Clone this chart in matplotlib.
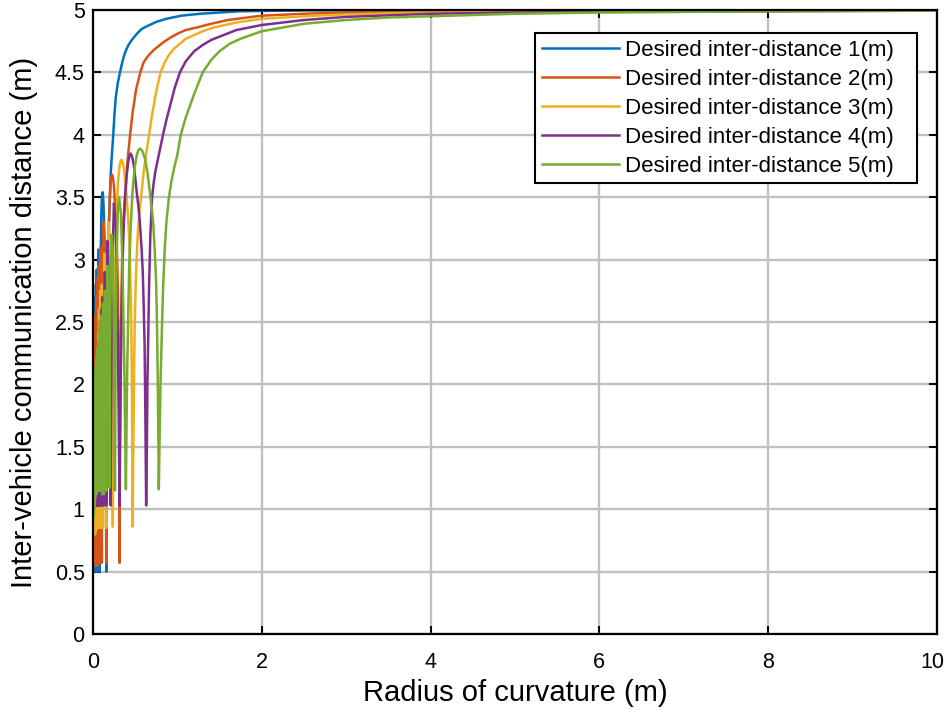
import numpy as np
import matplotlib
matplotlib.use('Agg')
import matplotlib.pyplot as plt
from matplotlib.transforms import ScaledTranslation

#%% data (radius of curvature vs communication distance)
labels = ['Desired inter-distance 1(m)', 'Desired inter-distance 2(m)',
          'Desired inter-distance 3(m)', 'Desired inter-distance 4(m)',
          'Desired inter-distance 5(m)']

r_d1 = [0.004, 0.0065, 0.009, 0.011, 0.013, 0.015, 0.017, 0.019, 0.021, 0.0235,
        0.026, 0.0285, 0.031, 0.035, 0.039, 0.045, 0.052, 0.055, 0.063, 0.071,
        0.0785, 0.0816, 0.0864, 0.0942, 0.099, 0.1044, 0.109, 0.1138, 0.119, 0.124,
        0.13, 0.135, 0.1437, 0.1507, 0.1543, 0.157,
        0.161, 0.165, 0.172, 0.18, 0.19, 0.2, 0.21, 0.22, 0.24, 0.255,
        0.27, 0.295, 0.32, 0.35, 0.38, 0.42, 0.46, 0.52, 0.58, 0.64,
        0.75, 0.87, 1.05, 1.27, 1.5, 1.74, 2.5, 4.0, 10.0]
c_d1 = [1.4, 2.3, 1.0, 2.4, 0.8, 2.5, 0.7, 2.55, 0.6, 2.62,
        0.55, 2.7, 0.5, 2.8, 0.5, 2.92, 0.5, 2.4, 3.08, 2.5,
        0.5, 1.56, 2.48, 3.14, 3.37, 3.48, 3.53, 3.54, 3.51, 3.45,
        3.33, 3.18, 2.87, 2.32, 1.56, 0.5,
        1.4, 2.0, 2.6, 3.0, 3.3, 3.5, 3.68, 3.8, 4.0, 4.17,
        4.3, 4.42, 4.5, 4.59, 4.66, 4.72, 4.76, 4.81, 4.85, 4.87,
        4.905, 4.93, 4.955, 4.97, 4.98, 4.99, 4.997, 5.0, 5.0]

r_d2 = [0.006, 0.008, 0.010, 0.012, 0.014, 0.016, 0.018, 0.020, 0.022, 0.024,
        0.026, 0.0285, 0.031, 0.033, 0.035, 0.037, 0.039, 0.042, 0.045, 0.0485,
        0.052, 0.057, 0.063, 0.069, 0.0785, 0.081, 0.089, 0.098, 0.105, 0.109,
        0.116, 0.125, 0.137, 0.148, 0.154,
        0.157, 0.16, 0.163, 0.168, 0.173, 0.18, 0.188, 0.198, 0.209, 0.218,
        0.228, 0.238, 0.248, 0.259, 0.27, 0.279, 0.287, 0.295, 0.301, 0.305,
        0.309, 0.312, 0.314,
        0.319, 0.325, 0.335, 0.345, 0.36, 0.38, 0.395, 0.41, 0.44, 0.47,
        0.51, 0.56, 0.6, 0.65, 0.72, 0.83, 0.92, 1.0, 1.1, 1.23,
        1.4, 1.6, 2.0, 2.5, 3.0, 4.0, 6.0, 10.0]
c_d2 = [0.9, 2.0, 0.7, 2.1, 0.6, 2.2, 0.55, 2.3, 0.55, 2.4,
        0.55, 2.5, 0.55, 2.55, 0.55, 2.6, 0.55, 2.7, 0.55, 2.75,
        0.55, 2.85, 0.56, 2.95, 0.57, 1.8, 3.1, 2.2, 0.57, 2.0,
        2.9, 3.3, 3.1, 2.4, 1.6,
        0.57, 1.15, 1.66, 2.15, 2.59, 2.97, 3.28, 3.48, 3.62, 3.66,
        3.68, 3.65, 3.59, 3.47, 3.31, 3.17, 3.0, 2.75, 2.44, 2.1,
        1.66, 1.15, 0.57,
        1.4, 2.0, 2.6, 3.0, 3.3, 3.5, 3.66, 3.8, 4.0, 4.18,
        4.36, 4.5, 4.58, 4.63, 4.68, 4.74, 4.78, 4.81, 4.84, 4.86,
        4.89, 4.92, 4.955, 4.97, 4.98, 4.99, 4.997, 5.0]

r_d3 = [0.009, 0.0115, 0.014, 0.0165, 0.019, 0.0215, 0.024, 0.0265, 0.029, 0.032,
        0.035, 0.038, 0.041, 0.044, 0.047, 0.0495, 0.052, 0.0555, 0.059, 0.063,
        0.067, 0.072, 0.078, 0.085, 0.094, 0.098, 0.105, 0.111, 0.1175, 0.121,
        0.133, 0.146, 0.152, 0.157, 0.162, 0.172, 0.185, 0.203, 0.22, 0.23,
        0.235, 0.239, 0.244, 0.251, 0.259, 0.269, 0.282, 0.297, 0.313, 0.327,
        0.341, 0.356, 0.371, 0.388, 0.404, 0.418, 0.43, 0.441, 0.451, 0.457,
        0.462, 0.466, 0.47,
        0.478, 0.485, 0.495, 0.51, 0.53, 0.55, 0.57, 0.6, 0.62, 0.66,
        0.7, 0.75, 0.8, 0.85, 0.9, 0.96, 1.03, 1.1, 1.2, 1.3,
        1.43, 1.7, 2.0, 2.5, 3.0, 4.0, 6.0, 10.0]
c_d3 = [0.8, 1.7, 0.8, 1.75, 0.8, 1.8, 0.8, 1.85, 0.82, 1.9,
        0.83, 2.0, 0.84, 2.1, 0.85, 2.2, 0.85, 2.3, 0.85, 2.4,
        0.85, 2.6, 0.85, 2.75, 0.85, 2.0, 2.8, 2.0, 0.85, 2.0,
        3.05, 2.4, 1.6, 0.85, 2.0, 2.9, 3.3, 3.1, 2.2, 1.5,
        0.86, 1.4, 1.89, 2.35, 2.77, 3.12, 3.42, 3.62, 3.74, 3.79,
        3.80, 3.77, 3.71, 3.6, 3.45, 3.32, 3.15, 2.92, 2.62, 2.3,
        1.89, 1.4, 0.86,
        1.5, 2.0, 2.5, 2.9, 3.2, 3.38, 3.5, 3.7, 3.8, 3.98,
        4.16, 4.35, 4.5, 4.58, 4.64, 4.69, 4.73, 4.77, 4.8, 4.83,
        4.86, 4.9, 4.93, 4.95, 4.965, 4.98, 4.99, 5.0]

r_d4 = [0.013, 0.016, 0.019, 0.022, 0.025, 0.028, 0.031, 0.0345, 0.038, 0.0415,
        0.045, 0.049, 0.0525, 0.055, 0.057, 0.06, 0.063, 0.0665, 0.07, 0.0745,
        0.079, 0.0845, 0.09, 0.0975, 0.105, 0.108, 0.115, 0.121, 0.126, 0.13,
        0.14, 0.151, 0.1575, 0.162, 0.171, 0.182, 0.197, 0.206, 0.21, 0.217,
        0.23, 0.248, 0.27, 0.29, 0.305,
        0.315, 0.321, 0.328, 0.337, 0.347, 0.36, 0.378, 0.398, 0.419, 0.432,
        0.445, 0.462, 0.48, 0.5, 0.52, 0.538, 0.555, 0.575, 0.59, 0.602,
        0.612, 0.62, 0.63,
        0.64, 0.645, 0.655, 0.665, 0.68, 0.70, 0.72, 0.74, 0.78, 0.83,
        0.87, 0.92, 0.97, 1.03, 1.1, 1.2, 1.3, 1.4, 1.55, 1.7,
        2.0, 2.5, 3.0, 4.0, 5.0, 6.0, 8.0, 10.0]
c_d4 = [1.2, 1.9, 1.1, 2.0, 1.05, 2.05, 1.03, 2.1, 1.03, 2.15,
        1.03, 2.2, 1.03, 2.25, 1.03, 2.3, 1.03, 2.35, 1.03, 2.4,
        1.03, 2.5, 1.03, 2.6, 1.03, 2.0, 2.7, 2.1, 1.03, 2.0,
        2.9, 2.3, 1.03, 2.1, 3.15, 2.9, 2.0, 1.5, 1.03, 2.0,
        3.0, 3.45, 3.3, 2.5, 1.8,
        1.03, 1.6, 2.02, 2.45, 2.86, 3.2, 3.48, 3.67, 3.79, 3.83,
        3.85, 3.83, 3.77, 3.66, 3.53, 3.43, 3.3, 3.1, 2.9, 2.6,
        2.3, 1.8, 1.03,
        1.6, 2.0, 2.4, 2.8, 3.2, 3.5, 3.62, 3.71, 3.84, 4.0,
        4.12, 4.25, 4.38, 4.5, 4.59, 4.67, 4.72, 4.76, 4.8, 4.84,
        4.88, 4.92, 4.945, 4.97, 4.98, 4.985, 4.99, 4.995]

r_d5 = [0.008, 0.0115, 0.015, 0.0185, 0.022, 0.026, 0.03, 0.034, 0.038, 0.0415,
        0.045, 0.0485, 0.052, 0.056, 0.06, 0.0625, 0.065, 0.068, 0.071, 0.0745,
        0.078, 0.0825, 0.087, 0.092, 0.0975, 0.103, 0.111, 0.119, 0.13, 0.141,
        0.148, 0.156, 0.161, 0.171, 0.182, 0.195, 0.2, 0.21, 0.222, 0.235,
        0.248, 0.26, 0.268, 0.28, 0.295, 0.31, 0.33, 0.35, 0.37,
        0.39, 0.398, 0.406, 0.417, 0.429, 0.447, 0.468, 0.493, 0.519, 0.54,
        0.56, 0.585, 0.616, 0.645, 0.671, 0.693, 0.714, 0.733, 0.749, 0.758,
        0.766, 0.773, 0.78,
        0.79, 0.80, 0.815, 0.83, 0.85, 0.87, 0.9, 0.93, 0.96, 1.0,
        1.04, 1.1, 1.2, 1.3, 1.4, 1.5, 1.62, 1.75, 2.0, 2.25,
        2.5, 2.75, 3.0, 3.5, 4.0, 4.5, 5.0, 6.0, 7.0, 8.0, 10.0]
c_d5 = [0.95, 2.0, 1.0, 2.05, 1.05, 2.1, 1.1, 2.15, 1.12, 2.2,
        1.13, 2.25, 1.14, 2.3, 1.15, 2.3, 1.15, 2.35, 1.15, 2.4,
        1.15, 2.45, 1.15, 2.5, 1.15, 2.55, 1.12, 2.65, 1.12, 2.75,
        2.4, 1.15, 2.3, 2.95, 2.6, 1.17, 2.2, 2.9, 3.2, 3.05,
        2.4, 1.15, 2.3, 3.0, 3.4, 3.5, 3.38, 2.95, 2.2,
        1.16, 1.7, 2.12, 2.55, 2.93, 3.27, 3.54, 3.73, 3.84, 3.88,
        3.89, 3.87, 3.81, 3.7, 3.56, 3.43, 3.29, 3.05, 2.8, 2.5,
        2.12, 1.7, 1.16,
        1.6, 2.0, 2.4, 2.76, 3.08, 3.3, 3.5, 3.63, 3.73, 3.84,
        4.0, 4.14, 4.33, 4.5, 4.6, 4.67, 4.73, 4.77, 4.83, 4.86,
        4.89, 4.905, 4.92, 4.94, 4.95, 4.96, 4.97, 4.98, 4.985, 4.99, 4.995]

x_ticks = [0, 2, 4, 6, 8, 10]
y_ticks = [0, 0.5, 1, 1.5, 2, 2.5, 3, 3.5, 4, 4.5, 5]
y_tick_labels = ['0', '0.5', '1', '1.5', '2', '2.5', '3', '3.5', '4', '4.5', '5']

#%% plotting options
plt.rcParams['font.family'] = ['Liberation Sans', 'DejaVu Sans']
colors = ['#0072BD', '#D95319', '#EDB120', '#7E2F8E', '#77AC30']

fig = plt.figure(figsize=(9.45, 7.16), dpi=100)
ax = fig.add_axes([0.0984, 0.1145, 0.893, 0.8715])

series = [(r_d1, c_d1), (r_d2, c_d2), (r_d3, c_d3), (r_d4, c_d4), (r_d5, c_d5)]
for (xs, ys), col, lab in zip(series, colors, labels):
    ax.plot(xs, ys, color=col, lw=1.8, label=lab)

ax.set_xlim(0, 10)
ax.set_ylim(0, 5)
ax.set_xticks(x_ticks)
ax.set_yticks(y_ticks)
ax.set_yticklabels(y_tick_labels)
ax.grid(True, color='#c0c0c0', lw=1.7)
ax.set_axisbelow(True)
ax.tick_params(direction='in', length=6, width=1.4, top=True, right=True,
               labelsize=15.5)
ax.tick_params(axis='x', pad=13)
ax.tick_params(axis='y', pad=6)
for sp in ax.spines.values():
    sp.set_linewidth(1.6)

# last x tick label sits right at the figure edge
last = ax.get_xticklabels()[-1]
last.set_horizontalalignment('right')
last.set_transform(last.get_transform() + ScaledTranslation(0.075, 0, fig.dpi_scale_trans))

ax.set_xlabel('Radius of curvature (m)', fontsize=21, labelpad=4)
ax.set_ylabel('Inter-vehicle communication distance (m)', fontsize=21, labelpad=12)

leg = ax.legend(loc='upper left', bbox_to_anchor=(0.5237, 0.7324, 0.4526, 0.2308),
                mode='expand', fontsize=16, fancybox=False, framealpha=1,
                edgecolor='black', handlelength=3.5, handletextpad=0.25,
                labelspacing=0.36, borderpad=0.3, borderaxespad=0)
leg.get_frame().set_linewidth(1.5)

plt.savefig('out.png', dpi=100)
